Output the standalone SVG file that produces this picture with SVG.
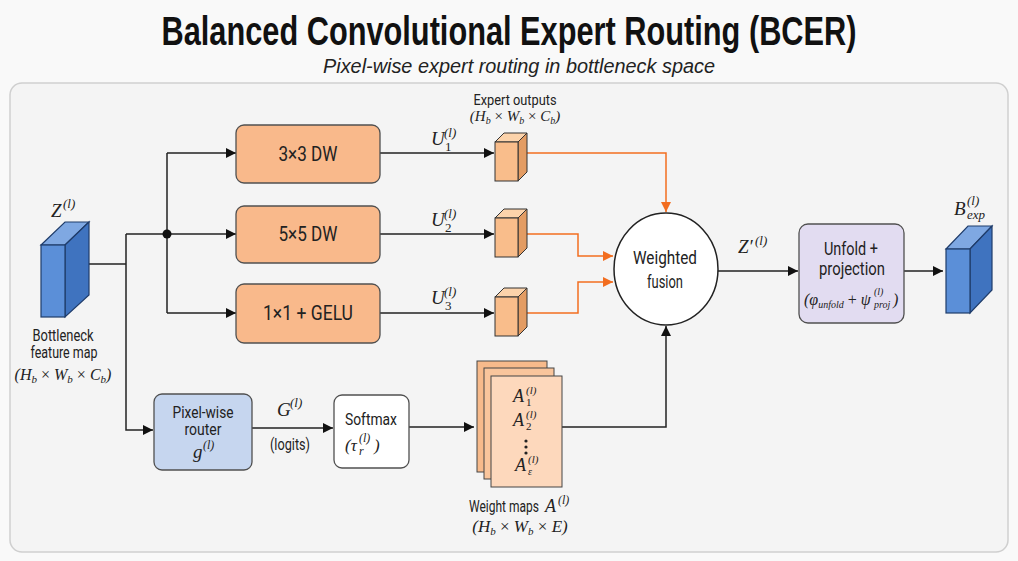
<svg xmlns="http://www.w3.org/2000/svg" width="1018" height="561" viewBox="0 0 1018 561">
<style>
.t{font-family:Roboto,"Liberation Sans",sans-serif;fill:#222}
.m{font-family:"Liberation Serif","DejaVu Serif",serif;font-style:italic;fill:#222}
.ln{fill:none;stroke:#222;stroke-width:1.5}
.or{fill:none;stroke:#f26d1f;stroke-width:1.5}
.box{stroke:#505050;stroke-width:1.3}
.ex{fill:#f9b98b}
.cf{fill:#5b8fd8;stroke:#1f3c6a;stroke-width:1.2}
.ct{fill:#7fa8e2;stroke:#1f3c6a;stroke-width:1.2}
.cs{fill:#3f73bf;stroke:#1f3c6a;stroke-width:1.2}
.sf{fill:#f9bd8b;stroke:#333;stroke-width:1}
.st{fill:#fcd3ab;stroke:#333;stroke-width:1}
.ss{fill:#e39c63;stroke:#333;stroke-width:1}
</style>
<defs>
<marker id="ah" viewBox="0 0 10 10" refX="10" refY="5" markerWidth="11" markerHeight="10" markerUnits="userSpaceOnUse" orient="auto"><path d="M0,0 L10,5 L0,10 z" fill="#111"/></marker>
<marker id="ao" viewBox="0 0 10 10" refX="10" refY="5" markerWidth="11" markerHeight="10" markerUnits="userSpaceOnUse" orient="auto"><path d="M0,0 L10,5 L0,10 z" fill="#f26d1f"/></marker>
</defs>
<rect width="1018" height="561" fill="#f9f9f9"/>
<text x="509" y="45" text-anchor="middle" font-family="'Liberation Sans',sans-serif" font-weight="bold" font-size="40" textLength="695" lengthAdjust="spacingAndGlyphs" fill="#111">Balanced Convolutional Expert Routing (BCER)</text>
<text x="519" y="73" text-anchor="middle" font-family="'Liberation Sans',sans-serif" font-style="italic" font-size="20" textLength="392" lengthAdjust="spacingAndGlyphs" fill="#222">Pixel-wise expert routing in bottleneck space</text>
<rect x="10" y="83" width="998" height="469" rx="12" fill="#f4f4f4" stroke="#cfcfcf" stroke-width="1.5"/>

<g id="connectors">
<path class="ln" d="M89,264 H126"/>
<path class="ln" d="M126,234 H167"/>
<path class="ln" d="M126,234 V430 H153" marker-end="url(#ah)"/>
<path class="ln" d="M167,153 V313"/>
<path class="ln" d="M167,153 H236" marker-end="url(#ah)"/>
<path class="ln" d="M167,234 H236" marker-end="url(#ah)"/>
<path class="ln" d="M167,313 H236" marker-end="url(#ah)"/>
<circle cx="167" cy="234" r="4.5" fill="#111"/>
<path class="ln" d="M380,153 H494" marker-end="url(#ah)"/>
<path class="ln" d="M380,234 H494" marker-end="url(#ah)"/>
<path class="ln" d="M380,313 H494" marker-end="url(#ah)"/>
<path class="or" d="M527,153 H666 V212" marker-end="url(#ao)"/>
<path class="or" d="M527,234 H578 V256 H613" marker-end="url(#ao)"/>
<path class="or" d="M527,313 H578 V282 H613" marker-end="url(#ao)"/>
<path class="ln" d="M252,428 H333" marker-end="url(#ah)"/>
<path class="ln" d="M409,427 H474" marker-end="url(#ah)"/>
<path class="ln" d="M562,427 H666 V326" marker-end="url(#ah)"/>
<path class="ln" d="M718,271 H798" marker-end="url(#ah)"/>
<path class="ln" d="M904,271 H943" marker-end="url(#ah)"/>
</g>

<g id="z-input">
<polygon class="ct" points="41,245 65,222 89,222 65,245"/>
<polygon class="cs" points="65,245 89,222 89,295 65,317"/>
<rect class="cf" x="41" y="245" width="24" height="72"/>
<text class="m" x="51" y="217" font-size="19">Z</text>
<text class="m" x="63" y="208" font-size="13">(l)</text>
<text class="t" x="63" y="341" font-size="16" text-anchor="middle" textLength="61" lengthAdjust="spacingAndGlyphs">Bottleneck</text>
<text class="t" x="64" y="358" font-size="16" text-anchor="middle" textLength="67" lengthAdjust="spacingAndGlyphs">feature map</text>
<text class="m" x="63" y="380" font-size="16" text-anchor="middle">(H<tspan font-size="11" dy="3">b</tspan><tspan dy="-3" font-style="normal"> × </tspan>W<tspan font-size="11" dy="3">b</tspan><tspan dy="-3" font-style="normal"> × </tspan>C<tspan font-size="11" dy="3">b</tspan><tspan dy="-3">)</tspan></text>
</g>

<g id="expert1">
<rect class="box ex" x="236" y="125" width="144" height="58" rx="8"/>
<text class="t" x="308" y="161" font-size="20" text-anchor="middle" textLength="59" lengthAdjust="spacingAndGlyphs">3×3 DW</text>
</g>
<g id="expert2">
<rect class="box ex" x="236" y="206" width="144" height="57" rx="8"/>
<text class="t" x="308" y="241" font-size="20" text-anchor="middle" textLength="59" lengthAdjust="spacingAndGlyphs">5×5 DW</text>
</g>
<g id="expert3">
<rect class="box ex" x="236" y="284" width="144" height="59" rx="8"/>
<text class="t" x="308" y="320" font-size="20" text-anchor="middle" textLength="90" lengthAdjust="spacingAndGlyphs">1×1 + GELU</text>
</g>

<g id="labels-u">
<text class="m" y="145" font-size="19"><tspan x="431">U</tspan><tspan x="444" dy="-8" font-size="13">(l)</tspan><tspan x="445" dy="14" font-size="13" font-style="normal">1</tspan></text>
<text class="m" y="226" font-size="19"><tspan x="431">U</tspan><tspan x="444" dy="-8" font-size="13">(l)</tspan><tspan x="445" dy="14" font-size="13" font-style="normal">2</tspan></text>
<text class="m" y="304" font-size="19"><tspan x="431">U</tspan><tspan x="444" dy="-8" font-size="13">(l)</tspan><tspan x="445" dy="14" font-size="13" font-style="normal">3</tspan></text>
<text class="t" x="515" y="105" font-size="15" text-anchor="middle" textLength="83" lengthAdjust="spacingAndGlyphs">Expert outputs</text>
<text class="m" x="515" y="121" font-size="15" text-anchor="middle">(H<tspan font-size="10" dy="3">b</tspan><tspan dy="-3" font-style="normal"> × </tspan>W<tspan font-size="10" dy="3">b</tspan><tspan dy="-3" font-style="normal"> × </tspan>C<tspan font-size="10" dy="3">b</tspan><tspan dy="-3">)</tspan></text>
</g>

<g id="cube-u1">
<polygon class="st" points="495,142 504,133 527,133 518,142"/>
<polygon class="ss" points="518,142 527,133 527,172 518,181"/>
<rect class="sf" x="495" y="142" width="23" height="39"/>
</g>
<g id="cube-u2">
<polygon class="st" points="495,218 504,209 527,209 518,218"/>
<polygon class="ss" points="518,218 527,209 527,248 518,257"/>
<rect class="sf" x="495" y="218" width="23" height="39"/>
</g>
<g id="cube-u3">
<polygon class="st" points="495,297 504,288 527,288 518,297"/>
<polygon class="ss" points="518,297 527,288 527,327 518,336"/>
<rect class="sf" x="495" y="297" width="23" height="39"/>
</g>

<g id="fusion">
<ellipse cx="666" cy="269" rx="52" ry="56" fill="#fff" stroke="#222" stroke-width="1.5"/>
<text class="t" x="665" y="264" font-size="19" text-anchor="middle" textLength="64" lengthAdjust="spacingAndGlyphs">Weighted</text>
<text class="t" x="665" y="288" font-size="19" text-anchor="middle" textLength="36" lengthAdjust="spacingAndGlyphs">fusion</text>
</g>

<g id="zprime-label">
<text class="m" x="738" y="253" font-size="19">Z′</text>
<text class="m" x="755" y="245" font-size="13">(l)</text>
</g>

<g id="unfold">
<rect class="box" x="799" y="224" width="105" height="99" rx="9" fill="#e2dcf1"/>
<text class="t" x="851" y="255" font-size="19" text-anchor="middle" textLength="54" lengthAdjust="spacingAndGlyphs">Unfold +</text>
<text class="t" x="852" y="275" font-size="19" text-anchor="middle" textLength="66" lengthAdjust="spacingAndGlyphs">projection</text>
<text class="m" y="305" font-size="16"><tspan x="804">(φ</tspan><tspan font-size="10" dy="3">unfold</tspan><tspan dy="-3" font-style="normal"> + </tspan><tspan>ψ</tspan><tspan x="874" dy="-10" font-size="10">(l)</tspan><tspan x="874" dy="13" font-size="10">proj</tspan><tspan x="893" dy="-3">)</tspan></text>
</g>

<g id="b-output">
<polygon class="ct" points="946,249 968,226 992,226 970,249"/>
<polygon class="cs" points="970,249 992,226 992,290 970,313"/>
<rect class="cf" x="946" y="249" width="24" height="64"/>
<text class="m" y="215" font-size="19"><tspan x="954">B</tspan><tspan x="967" dy="-10" font-size="13">(l)</tspan><tspan x="967" dy="14" font-size="13">exp</tspan></text>
</g>

<g id="router">
<rect class="box" x="154" y="394" width="98" height="76" rx="8" fill="#c6d6ef"/>
<text class="t" x="203" y="418" font-size="17" text-anchor="middle" textLength="61" lengthAdjust="spacingAndGlyphs">Pixel-wise</text>
<text class="t" x="203" y="435" font-size="17" text-anchor="middle" textLength="37" lengthAdjust="spacingAndGlyphs">router</text>
<text class="m" y="458" font-size="19"><tspan x="193">g</tspan><tspan x="203" dy="-9" font-size="12">(l)</tspan></text>
</g>

<g id="logits-label">
<text class="m" y="416" font-size="19"><tspan x="277">G</tspan><tspan x="290" dy="-9" font-size="13">(l)</tspan></text>
<text class="t" x="290" y="450" font-size="16" text-anchor="middle" textLength="40" lengthAdjust="spacingAndGlyphs">(logits)</text>
</g>

<g id="softmax">
<rect class="box" x="334" y="395" width="75" height="73" rx="8" fill="#fff"/>
<text class="t" x="371" y="425" font-size="17" text-anchor="middle" textLength="52" lengthAdjust="spacingAndGlyphs">Softmax</text>
<text class="m" y="451" font-size="17"><tspan x="345">(τ</tspan><tspan x="359" dy="4" font-size="12">r</tspan><tspan x="359" dy="-13" font-size="12">(l)</tspan><tspan x="374" dy="9">)</tspan></text>
</g>

<g id="weight-maps">
<rect x="477" y="361" width="70" height="111" fill="#f7ba8b" stroke="#444" stroke-width="1"/>
<rect x="484" y="368" width="70" height="111" fill="#f9c59c" stroke="#444" stroke-width="1"/>
<rect x="491" y="376" width="71" height="111" fill="#fdd8bc" stroke="#444" stroke-width="1"/>
<text class="m" y="402" font-size="18"><tspan x="513">A</tspan><tspan x="526" dy="-8" font-size="11">(l)</tspan><tspan x="526" dy="12" font-size="11" font-style="normal">1</tspan></text>
<text class="m" y="426" font-size="18"><tspan x="513">A</tspan><tspan x="526" dy="-8" font-size="11">(l)</tspan><tspan x="526" dy="12" font-size="11" font-style="normal">2</tspan></text>
<circle cx="526" cy="441" r="1.6" fill="#222"/>
<circle cx="526" cy="447" r="1.6" fill="#222"/>
<circle cx="526" cy="453" r="1.6" fill="#222"/>
<text class="m" y="471" font-size="18"><tspan x="515">A</tspan><tspan x="528" dy="-8" font-size="11">(l)</tspan><tspan x="528" dy="12" font-size="10">ε</tspan></text>
<text class="t" x="469" y="512" font-size="16" textLength="70" lengthAdjust="spacingAndGlyphs">Weight maps</text>
<text class="m" y="512" font-size="18"><tspan x="545">A</tspan><tspan x="558" dy="-8" font-size="12">(l)</tspan></text>
<text class="m" x="520" y="532" font-size="17" text-anchor="middle">(H<tspan font-size="11" dy="3">b</tspan><tspan dy="-3" font-style="normal"> × </tspan>W<tspan font-size="11" dy="3">b</tspan><tspan dy="-3" font-style="normal"> × </tspan>E)</text>
</g>
</svg>
